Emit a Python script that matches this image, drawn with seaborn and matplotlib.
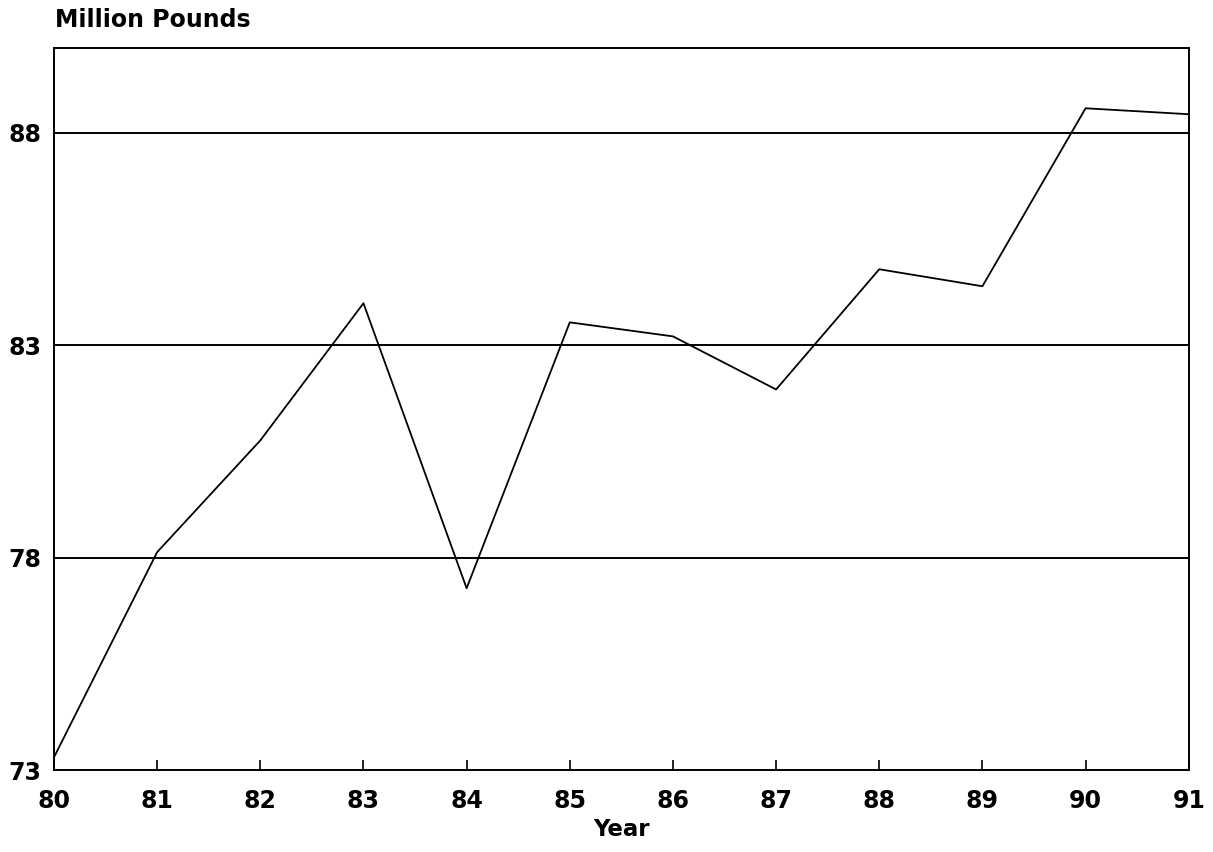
import matplotlib
matplotlib.use('Agg')
import matplotlib.pyplot as plt
import pandas as pd
import seaborn as sns

# values (million pounds by year)
years = [80, 81, 82, 83, 84, 85, 86, 87, 88, 89, 90, 91]
pounds = [73.3, 78.13, 80.76, 83.99, 77.28, 83.54, 83.21, 81.96, 84.79, 84.39, 88.58, 88.44]
y_ticks = [73, 78, 83, 88]

df = pd.DataFrame({'year': years, 'pounds': pounds})

sns.set_style('white')
plt.rcParams['font.family'] = ['DejaVu Sans']
plt.rcParams['text.color'] = 'black'
plt.rcParams['xtick.color'] = 'black'
plt.rcParams['ytick.color'] = 'black'
plt.rcParams['axes.labelcolor'] = 'black'

fig = plt.figure(figsize=(12.13, 8.52), dpi=100)
ax = fig.add_axes([0.0445, 0.0962, 0.9355, 0.8475])

# horizontal reference lines
for yv in y_ticks[1:]:
    ax.axhline(yv, color='black', linewidth=1.4, zorder=1)

sns.lineplot(data=df, x='year', y='pounds', ax=ax, color='black', linewidth=1.3, zorder=2)

ax.set_xlim(80, 91)
ax.set_ylim(73, 90)
ax.set_xticks(years)
ax.set_xticklabels([str(y) for y in years])
ax.set_yticks(y_ticks)
ax.tick_params(axis='x', direction='in', length=7, width=1.2, pad=14,
               labelsize=17, bottom=True)
ax.tick_params(axis='y', length=0, pad=9, labelsize=17, left=True)
for lab in ax.get_xticklabels() + ax.get_yticklabels():
    lab.set_fontweight('bold')

for sp in ax.spines.values():
    sp.set_color('black')
    sp.set_linewidth(1.4)

ax.set_xlabel('Year', fontsize=16.5, fontweight='bold', labelpad=3)
ax.set_ylabel('')
fig.text(0.045, 0.963, 'Million Pounds', fontsize=17, fontweight='bold',
         ha='left', va='bottom')

plt.savefig('out.png', dpi=100)
